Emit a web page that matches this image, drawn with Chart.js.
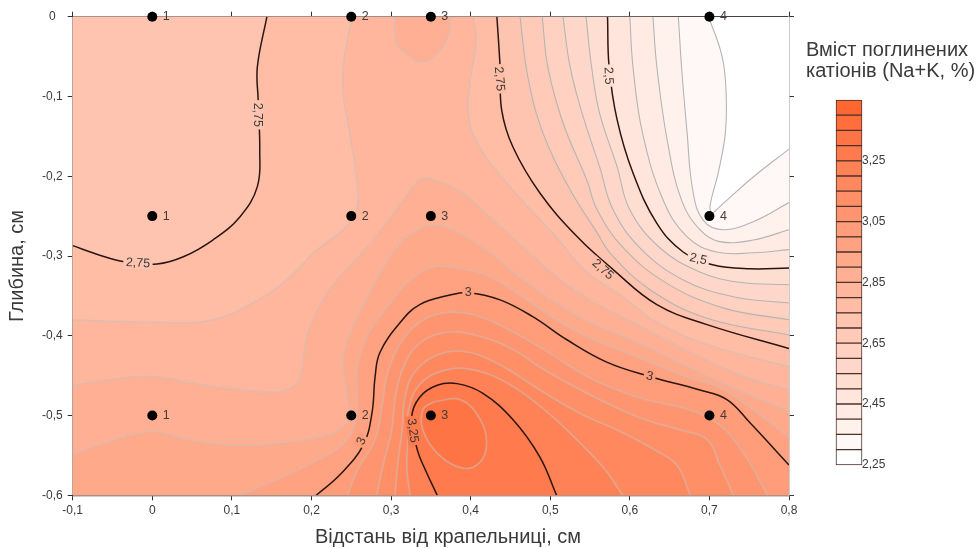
<!DOCTYPE html>
<html>
<head>
<meta charset="utf-8">
<script src="https://cdn.jsdelivr.net/npm/chart.js@4"></script>
<style>
  html, body { margin: 0; padding: 0; background: #fff; }
  #wrap { position: relative; width: 979px; height: 548px; overflow: hidden; }
  canvas { position: absolute; filter: blur(0.35px); }
  #main { left: 0; top: 0; }
  #bar { left: 806px; top: 30px; }
</style>
</head>
<body>
<div id="wrap">
  <canvas id="main" width="979" height="548"></canvas>
  <canvas id="bar" width="173" height="442"></canvas>
</div>
<script>
// sampling points
const pointX = [0, 0.25, 0.35, 0.7];
const pointY = [0, -0.25, -0.5];
const pointNames = ["1", "2", "3", "4"];

// contour lines, [x, y]
const line230 = [[.699,0],[.716,-.05],[.721,-.096],[.72,-.146],[.711,-.196],[.701,-.236],[.703,-.246],[.713,-.238],[.755,-.201],[.8,-.166]];
const line235 = [[.661,0],[.665,-.063],[.672,-.146],[.679,-.217],[.692,-.255],[.717,-.267],[.755,-.257],[.8,-.233]];
const line240 = [[.629,0],[.634,-.063],[.647,-.155],[.665,-.23],[.688,-.267],[.713,-.282],[.755,-.28],[.8,-.267]];
const line245 = [[.6,0],[.604,-.063],[.616,-.146],[.642,-.23],[.672,-.276],[.709,-.295],[.755,-.296],[.8,-.292]];
const line250 = [[.572,0],[.574,-.063],[.584,-.129],[.604,-.196],[.634,-.259],[.667,-.295],[.704,-.311],[.751,-.316],[.8,-.315]];
const line255 = [[.545,0],[.552,-.063],[.562,-.121],[.584,-.188],[.6,-.242],[.638,-.29],[.688,-.32],[.738,-.333],[.8,-.336]];
const line260 = [[.516,0],[.525,-.063],[.54,-.121],[.562,-.188],[.579,-.242],[.613,-.29],[.667,-.33],[.73,-.351],[.8,-.359]];
const line265 = [[.49,0],[.497,-.063],[.516,-.133],[.546,-.205],[.559,-.242],[.591,-.289],[.646,-.334],[.717,-.365],[.8,-.38]];
const line270 = [[.462,0],[.472,-.076],[.491,-.146],[.525,-.217],[.559,-.271],[.575,-.296],[.625,-.342],[.697,-.378],[.8,-.399]];
const line275r = [[.433,0],[.437,-.063],[.439,-.117],[.453,-.163],[.487,-.221],[.534,-.276],[.579,-.317],[.634,-.361],[.697,-.386],[.8,-.416]];
const line280r = [[.403,0],[.407,-.029],[.399,-.083],[.397,-.121],[.408,-.158],[.449,-.213],[.503,-.271],[.546,-.32],[.591,-.351],[.634,-.383],[.697,-.411],[.8,-.439]];
const line280l = [[.251,0],[.241,-.054],[.24,-.096],[.248,-.146],[.257,-.205],[.258,-.236],[.245,-.262],[.204,-.295],[.169,-.33],[.133,-.355],[.076,-.38],[-.003,-.383],[-.1,-.38]];
const line275l = [[.144,0],[.132,-.063],[.133,-.104],[.135,-.167],[.132,-.213],[.11,-.251],[.076,-.28],[.039,-.301],[.006,-.31],[-.037,-.307],[-.066,-.299],[-.1,-.287]];
const line285t = [[.305,0],[.307,-.033],[.317,-.044],[.336,-.057],[.353,-.05],[.37,-.029],[.375,0]];
const line285 = [[-.1,-.462],[-.066,-.457],[-.003,-.451],[.06,-.461],[.123,-.469],[.16,-.47],[.181,-.461],[.188,-.443],[.194,-.401],[.211,-.361],[.232,-.33],[.27,-.289],[.311,-.236],[.333,-.207],[.346,-.203],[.383,-.217],[.424,-.251],[.466,-.289],[.508,-.326],[.55,-.355],[.613,-.388],[.675,-.42],[.738,-.449],[.8,-.468]];
const line290 = [[-.1,-.549],[-.066,-.537],[-.003,-.52],[.044,-.53],[.101,-.537],[.164,-.534],[.227,-.522],[.246,-.505],[.245,-.477],[.24,-.43],[.252,-.389],[.282,-.33],[.311,-.284],[.328,-.271],[.353,-.261],[.383,-.27],[.424,-.296],[.466,-.33],[.508,-.359],[.55,-.383],[.613,-.41],[.675,-.44],[.738,-.469],[.8,-.495]];
const line295 = [[.11,-.6],[.164,-.577],[.207,-.556],[.236,-.539],[.252,-.518],[.258,-.484],[.257,-.443],[.27,-.401],[.299,-.359],[.324,-.33],[.353,-.314],[.383,-.315],[.424,-.326],[.466,-.352],[.508,-.38],[.55,-.403],[.613,-.428],[.675,-.453],[.713,-.465],[.751,-.49],[.8,-.527]];
const line300 = [[.206,-.6],[.236,-.574],[.265,-.537],[.276,-.497],[.28,-.451],[.286,-.421],[.311,-.384],[.336,-.361],[.374,-.349],[.397,-.346],[.437,-.355],[.478,-.376],[.521,-.405],[.571,-.433],[.625,-.451],[.688,-.468],[.722,-.48],[.751,-.509],[.8,-.562]];
const line305 = [[.245,-.6],[.258,-.568],[.28,-.53],[.289,-.487],[.295,-.449],[.311,-.411],[.336,-.383],[.368,-.371],[.405,-.374],[.449,-.393],[.493,-.418],[.55,-.453],[.613,-.478],[.675,-.493],[.713,-.512],[.744,-.549],[.773,-.6]];
const line310 = [[.282,-.6],[.29,-.562],[.301,-.518],[.305,-.48],[.314,-.443],[.334,-.411],[.368,-.396],[.405,-.399],[.449,-.415],[.493,-.443],[.55,-.474],[.613,-.503],[.663,-.518],[.697,-.53],[.713,-.562],[.73,-.6]];
const line315 = [[.305,-.6],[.309,-.556],[.314,-.518],[.317,-.48],[.33,-.445],[.361,-.423],[.399,-.421],[.443,-.44],[.487,-.468],[.537,-.497],[.588,-.52],[.631,-.543],[.659,-.562],[.676,-.6]];
const line320 = [[.324,-.6],[.32,-.568],[.321,-.53],[.322,-.493],[.336,-.461],[.368,-.443],[.405,-.443],[.449,-.461],[.493,-.493],[.537,-.534],[.569,-.568],[.591,-.6]];
const line325 = [[.358,-.6],[.343,-.568],[.333,-.543],[.326,-.502],[.336,-.477],[.358,-.462],[.383,-.46],[.415,-.472],[.453,-.505],[.487,-.552],[.508,-.6]];
const line330 = [[.353,-.483],[.387,-.48],[.412,-.505],[.42,-.534],[.412,-.558],[.39,-.566],[.358,-.547],[.34,-.518],[.34,-.493],[.353,-.483]];

// how a region closes along the frame
const closeLeftSide = [[.8,-.6],[-.1,-.6],[-.1,0]];
const closeBottom = [[.8,-.6],[-.1,-.6]];
const closeCorner = [[.8,-.6]];
const closeTopLeft = [[-.1,0]];
const closeNone = [];

// [level, band painted, points, closing path] - painted in this order
const contours = [
  [2.30, 1, line230, closeLeftSide],
  [2.35, 2, line235, closeLeftSide],
  [2.40, 3, line240, closeLeftSide],
  [2.45, 4, line245, closeLeftSide],
  [2.50, 5, line250, closeLeftSide],
  [2.55, 6, line255, closeLeftSide],
  [2.60, 7, line260, closeLeftSide],
  [2.65, 8, line265, closeLeftSide],
  [2.70, 9, line270, closeLeftSide],
  [2.75, 10, line275r, closeLeftSide],
  [2.80, 11, line280r, closeLeftSide],
  [2.80, 10, line280l, closeTopLeft],
  [2.75, 9, line275l, closeTopLeft],
  [2.85, 12, line285t, closeNone],
  [2.85, 12, line285, closeBottom],
  [2.90, 13, line290, closeBottom],
  [2.95, 14, line295, closeCorner],
  [3.00, 15, line300, closeCorner],
  [3.05, 16, line305, closeNone],
  [3.10, 17, line310, closeNone],
  [3.15, 18, line315, closeNone],
  [3.20, 19, line320, closeNone],
  [3.25, 20, line325, closeNone],
  [3.30, 21, line330, closeNone],
];
const majorLevels = [2.5, 2.75, 3, 3.25];

// labels sitting on the contour lines
const labelText = ["2,75", "2,75", "2,75", "2,5", "2,75", "2,5", "3", "3", "3", "3,25"];
const labelX = [.132, -.018, .436, .573, .566, .686, .397, .625, .263, .327];
const labelY = [-.123, -.309, -.078, -.074, -.317, -.304, -.346, -.451, -.532, -.519];
const labelAngle = [90, 3, 85, 87, 42, 12, 0, 12, -65, 82];
const labelBand = [9, 9, 10, 5, 10, 5, 15, 15, 15, 20];

// colour scale
const barEdges = [2.25,2.30,2.35,2.40,2.45,2.50,2.55,2.60,2.65,2.70,2.75,2.80,2.85,2.90,2.95,3.00,3.05,3.10,3.15,3.20,3.25,3.30,3.35,3.40,3.45];
const barTicks = [2.25, 2.45, 2.65, 2.85, 3.05, 3.25];

const FONT = "'Liberation Sans', Arial, sans-serif";
const TEXT = "#3a3a3a";

function bandColor(i) {
  const t = i / 23;
  const g = Math.round(255 - 152 * t);
  const b = Math.round(255 - 205 * t);
  return `rgb(255,${g},${b})`;
}
const comma = (v) => String(+(+v).toFixed(1)).replace(".", ",");
const toXY = (p) => ({ x: p[0], y: p[1] });

const markerData = [];
pointY.forEach((y) => pointX.forEach((x, i) => markerData.push({ x, y, name: pointNames[i] })));

function lineColor(level) {
  if (majorLevels.includes(level)) return "#2b1510";
  // grey reads darker on the pale side, almost melts into the orange
  return level < 2.78 ? "#b4b4b4" : "rgba(205,190,182,0.55)";
}

const contourSets = contours.map((c) => ({
  data: c[2].map(toXY),
  showLine: true,
  tension: 0.4,
  pointRadius: 0,
  borderColor: lineColor(c[0]),
  borderWidth: majorLevels.includes(c[0]) ? 1.5 : (c[0] < 2.78 ? 1.1 : 1.7),
  regionBand: c[1],
  regionClose: c[3],
}));

// fills the regions under the contour lines, lowest level first
const regionFill = {
  id: "regionFill",
  beforeDatasetsDraw(chart) {
    const { ctx, chartArea: a, scales } = chart;
    ctx.save();
    ctx.beginPath();
    ctx.rect(a.left, a.top, a.width, a.height);
    ctx.clip();
    ctx.fillStyle = bandColor(0);
    ctx.fillRect(a.left, a.top, a.width, a.height);
    chart.data.datasets.forEach((ds, i) => {
      if (ds.regionBand === undefined) return;
      const line = chart.getDatasetMeta(i).dataset;
      line.updateControlPoints(a, "x");
      ctx.beginPath();
      line.path(ctx);
      ds.regionClose.forEach((p) => ctx.lineTo(scales.x.getPixelForValue(p[0]), scales.y.getPixelForValue(p[1])));
      ctx.closePath();
      ctx.fillStyle = bandColor(ds.regionBand);
      ctx.fill();
    });
    ctx.restore();
  },
  afterDatasetsDraw(chart) {
    const { ctx, scales } = chart;
    ctx.save();
    ctx.font = "12.5px " + FONT;
    ctx.textAlign = "center";
    ctx.textBaseline = "middle";
    // line labels, with a gap cut in the line
    labelText.forEach((t, i) => {
      ctx.save();
      ctx.translate(scales.x.getPixelForValue(labelX[i]), scales.y.getPixelForValue(labelY[i]));
      ctx.rotate(labelAngle[i] * Math.PI / 180);
      const w = ctx.measureText(t).width + 5;
      ctx.fillStyle = bandColor(labelBand[i]);
      ctx.fillRect(-w / 2, -6, w, 12);
      ctx.fillStyle = TEXT;
      ctx.fillText(t, 0, 0);
      ctx.restore();
    });
    // numbers next to the sampling points
    ctx.fillStyle = "#4a3a35";
    markerData.forEach((m) => {
      ctx.fillText(m.name, scales.x.getPixelForValue(m.x) + 14, scales.y.getPixelForValue(m.y));
    });
    // axis titles sit off-centre in the original
    ctx.font = "20px " + FONT;
    ctx.fillStyle = TEXT;
    ctx.fillText("Відстань від крапельниці, см", 448, 537);
    ctx.translate(17, 266);
    ctx.rotate(-Math.PI / 2);
    ctx.fillText("Глибина, см", 0, 0);
    ctx.restore();
  },
};

new Chart(document.getElementById("main"), {
  type: "scatter",
  data: {
    datasets: [
      { data: markerData, pointRadius: 5, pointBackgroundColor: "#000", pointBorderWidth: 0, showLine: false, clip: false },
      ...contourSets,
    ],
  },
  plugins: [regionFill],
  options: {
    responsive: false,
    animation: false,
    events: [],
    layout: { padding: 0 },
    plugins: { legend: { display: false }, tooltip: { enabled: false } },
    scales: {
      x: {
        type: "linear", position: "bottom", min: -0.1, max: 0.8,
        afterFit: (s) => { s.height = 52.7; },
        ticks: { stepSize: 0.1, maxRotation: 0, padding: 3, color: TEXT, font: { size: 12, family: FONT }, callback: comma },
        grid: { drawOnChartArea: false, tickLength: 5, color: "#333" },
        border: { color: "#333", width: 1.2 },
      },
      y: {
        type: "linear", position: "left", min: -0.6, max: 0,
        afterFit: (s) => { s.width = 72.7; },
        ticks: { stepSize: 0.1, padding: 5, crossAlign: "center", color: TEXT, font: { size: 12, family: FONT }, callback: comma },
        grid: { drawOnChartArea: false, tickLength: 5, color: "#333" },
        border: { color: "#333", width: 1.2 },
      },
      x2: {
        type: "linear", axis: "x", position: "top", min: -0.1, max: 0.8,
        afterFit: (s) => { s.height = 16.7; },
        ticks: { stepSize: 0.1, display: false },
        grid: { drawOnChartArea: false, tickLength: 5, color: "#333" },
        border: { color: "#333", width: 1.2 },
      },
      y2: {
        type: "linear", axis: "y", position: "right", min: -0.6, max: 0,
        afterFit: (s) => { s.width = 190; },
        ticks: { stepSize: 0.1, display: false },
        grid: { drawOnChartArea: false, tickLength: 5, color: "#333" },
        border: { color: "#999", width: 1.5 },
      },
    },
  },
});

// colour bar
new Chart(document.getElementById("bar"), {
  type: "bar",
  data: {
    labels: [""],
    datasets: barEdges.slice(0, -1).map((lo, i) => ({
      data: [[lo, barEdges[i + 1]]],
      backgroundColor: bandColor(i),
      borderColor: "#4a322b",
      borderWidth: 1,
      borderSkipped: false,
      grouped: false,
      barPercentage: 1,
      categoryPercentage: 1,
      clip: false,
    })),
  },
  options: {
    responsive: false,
    animation: false,
    events: [],
    layout: { autoPadding: false, padding: { bottom: 2 } },
    plugins: {
      legend: { display: false },
      tooltip: { enabled: false },
      title: {
        display: true, align: "start",
        text: ["Вміст поглинених", "катіонів (Na+K, %)"],
        color: TEXT,
        font: { size: 20, family: FONT, weight: "normal", lineHeight: 1.05 },
        padding: { top: 10, bottom: 18 },
      },
    },
    scales: {
      x: { display: false },
      // empty left axis only pushes the bar away from the title's left edge
      yLeft: {
        axis: "y", position: "left", min: 2.25, max: 3.45,
        afterFit: (s) => { s.width = 30; },
        ticks: { display: false },
        grid: { display: false },
        border: { display: false },
      },
      y: {
        position: "right", min: 2.25, max: 3.45,
        afterFit: (s) => { s.width = 117; },
        afterBuildTicks: (s) => { s.ticks = barTicks.map((value) => ({ value })); },
        ticks: { padding: 0, color: TEXT, font: { size: 12, family: FONT }, callback: (v) => v.toFixed(2).replace(".", ",") },
        grid: { display: false, drawTicks: false, tickLength: 0 },
        border: { display: false },
      },
    },
  },
});
</script>
</body>
</html>
